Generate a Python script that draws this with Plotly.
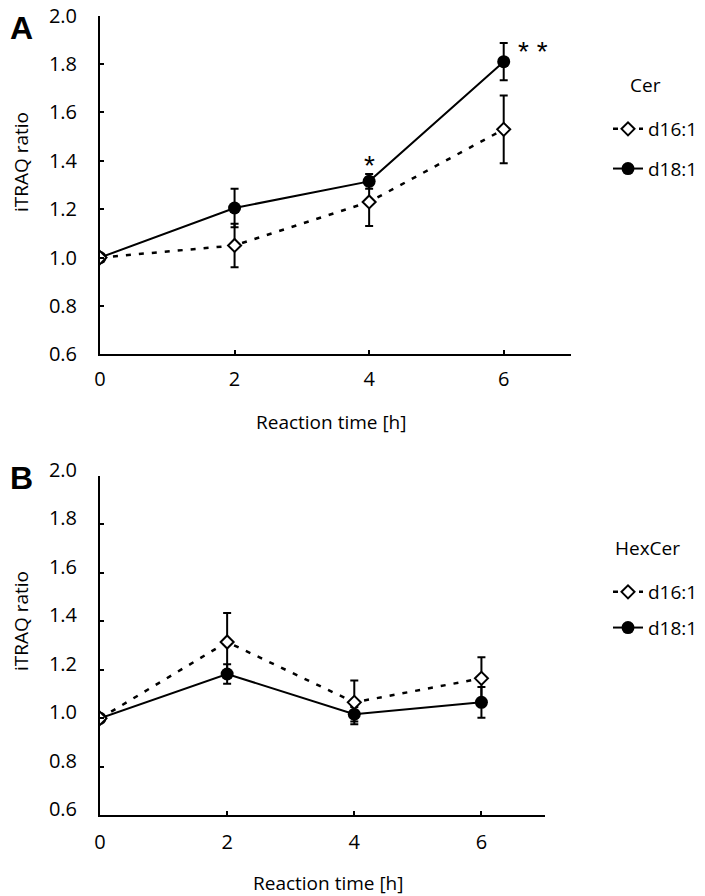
import plotly.graph_objects as go

# ---------------- data ----------------
time_h = [0, 2, 4, 6]

# Panel A: Cer
cer_d16 = [1.00, 1.05, 1.23, 1.53]
cer_d16_err = [0.0, 0.09, 0.10, 0.14]
cer_d18 = [1.00, 1.205, 1.315, 1.81]
cer_d18_err = [0.0, 0.08, 0.03, 0.077]

# Panel B: HexCer
hex_d16 = [1.00, 1.315, 1.066, 1.165]
hex_d16_err = [0.0, 0.12, 0.09, 0.087]
hex_d18 = [1.00, 1.183, 1.017, 1.066]
hex_d18_err = [0.0, 0.04, 0.03, 0.063]

y_ticks = [0.6, 0.8, 1.0, 1.2, 1.4, 1.6, 1.8, 2.0]
x_ticks = [0, 2, 4, 6]

FONT = "Open Sans"
OFF = 8            # page body margin in the browser
W, H = 705, 896

def px(x):
    return (x - OFF) / W

def py(y):
    return 1 - (y - OFF) / H

fig = go.Figure()

def add_series(xa, ya, d16, d16e, d18, d18e, legend):
    fig.add_trace(go.Scatter(
        x=time_h, y=d18, xaxis=xa, yaxis=ya, name="d18:1", legend=legend,
        legendgroup=legend + "b", legendrank=2,
        mode="lines+markers",
        line=dict(color="black", width=2),
        marker=dict(symbol="circle", size=13, color="black"),
        error_y=dict(type="data", array=d18e, color="black", thickness=2, width=4),
    ))
    fig.add_trace(go.Scatter(
        x=time_h, y=d16, xaxis=xa, yaxis=ya, name="d16:1", legend=legend,
        legendgroup=legend + "a", legendrank=1,
        mode="lines+markers",
        line=dict(color="black", width=2.5, dash="5px,8px"),
        marker=dict(symbol="diamond", size=10, color="white",
                    line=dict(color="black", width=2)),
        error_y=dict(type="data", array=d16e, color="black", thickness=2, width=4),
    ))

add_series("x", "y", cer_d16, cer_d16_err, cer_d18, cer_d18_err, "legend")
add_series("x2", "y2", hex_d16, hex_d16_err, hex_d18, hex_d18_err, "legend2")

axis_common = dict(
    showline=True, linecolor="black", linewidth=2,
    ticks="inside", ticklen=4, tickwidth=2, tickcolor="black",
    showgrid=False, zeroline=False, automargin=False,
    ticklabeloverflow="allow",
    tickfont=dict(family=FONT, size=20, color="black"),
)

fig.update_layout(
    width=W, height=H,
    margin=dict(l=0, r=0, t=0, b=0, autoexpand=False),
    paper_bgcolor="white", plot_bgcolor="white",
    font=dict(family=FONT, size=19, color="black"),
    xaxis=dict(domain=[px(100), px(571)], range=[0, 7], tickvals=x_ticks,
               anchor="y", ticklabelstandoff=6, **axis_common),
    yaxis=dict(domain=[py(354.3), py(15.7)], range=[0.6, 2.0], tickvals=y_ticks,
               tickformat=".1f", anchor="x", ticklabelshift=0,
               ticklabelstandoff=17, **axis_common),
    xaxis2=dict(domain=[px(100), px(545)], range=[0, 7], tickvals=x_ticks,
                anchor="y2", ticklabelstandoff=8, **axis_common),
    yaxis2=dict(domain=[py(815.3), py(476)], range=[0.6, 2.0], tickvals=y_ticks,
                tickformat=".1f", anchor="x2", ticklabelshift=-6,
                ticklabelstandoff=17, **axis_common),
    legend=dict(x=px(608), y=py(110), xanchor="left", yanchor="top",
                bgcolor="rgba(0,0,0,0)", font=dict(family=FONT, size=19),
                traceorder="grouped", tracegroupgap=12),
    legend2=dict(x=px(608), y=py(573), xanchor="left", yanchor="top",
                 bgcolor="rgba(0,0,0,0)", font=dict(family=FONT, size=19),
                 traceorder="grouped", tracegroupgap=8),
    showlegend=True,
)

ann = []
def text(x, y, s, size=19, bold=False, angle=0, family=FONT, xref="paper", yref="paper",
         xanchor="center", yanchor="middle"):
    ann.append(dict(x=x, y=y, xref=xref, yref=yref, text=("<b>%s</b>" % s) if bold else s,
                    showarrow=False, textangle=angle, xanchor=xanchor, yanchor=yanchor,
                    font=dict(family=family, size=size, color="black")))

# panel letters
text(px(8), py(8), "A", size=32, bold=True, family="Liberation Sans",
     xanchor="left", yanchor="top")
text(px(8), py(478), "B", size=32, bold=True, family="Liberation Sans", xanchor="left")
# axis titles
text(px(21), py(162), "iTRAQ ratio", angle=-90)
text(px(21), py(621), "iTRAQ ratio", angle=-90)
text(px(331), py(422), "Reaction time [h]")
text(px(328), py(883), "Reaction time [h]")
# legend titles
text(px(645), py(85), "Cer")
text(px(647), py(548), "HexCer")
# significance marks
text(4, 1.38, "*", size=28, xref="x", yref="y", family="Liberation Sans")
text(6.44, 1.85, "* *", size=28, xref="x", yref="y", family="Liberation Sans")

fig.update_layout(annotations=ann)

fig.write_html("out.html")
